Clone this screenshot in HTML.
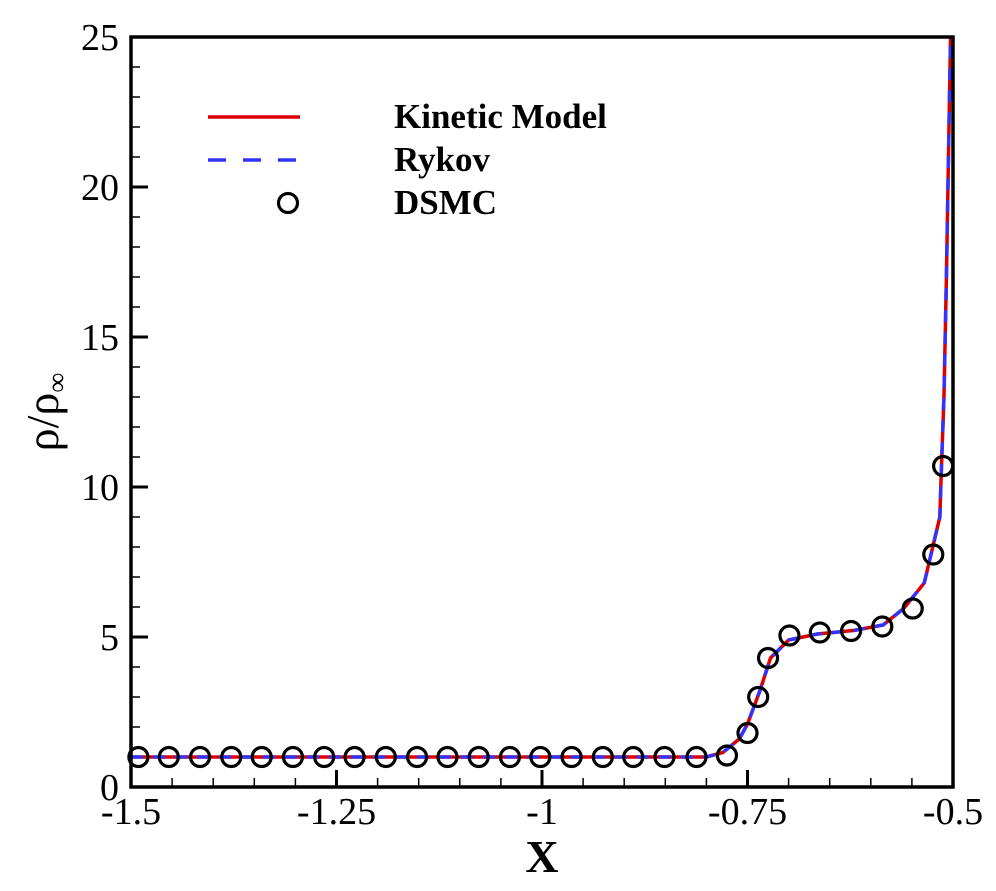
<!DOCTYPE html>
<html><head><meta charset="utf-8"><style>
body{margin:0;background:#fff}
svg text{font-family:"Liberation Serif",serif}
</style></head><body>
<svg id="c" width="996" height="886"></svg>
<script>
const lineX=[-1.5,-0.80,-0.78,-0.76,-0.75,-0.735,-0.722,-0.70,-0.665,-0.62,-0.585,-0.56,-0.535,-0.516,-0.514,-0.511,-0.508,-0.503];
const lineY=[1,1,1.15,1.6,2.1,3.2,4.3,4.9,5.1,5.22,5.4,5.95,6.8,9.0,10.7,13,17,25];
const dsmcX=[-1.491,-1.454,-1.416,-1.378,-1.341,-1.303,-1.265,-1.228,-1.190,-1.152,-1.115,-1.077,-1.039,-1.002,-0.964,-0.926,-0.889,-0.851,-0.812,-0.775,-0.750,-0.737,-0.725,-0.699,-0.662,-0.624,-0.586,-0.549,-0.524,-0.512];
const dsmcY=[1,1,1,1,1,1,1,1,1,1,1,1,1,1,1,1,1,1,1,1.05,1.8,3.0,4.3,5.05,5.15,5.2,5.35,5.95,7.75,10.7];
const xTicks=[-1.5,-1.25,-1,-0.75,-0.5];
const xTickLabels=["-1.5","-1.25","-1","-0.75","-0.5"];
const yTicks=[0,5,10,15,20,25];
const yTickLabels=["0","5","10","15","20","25"];
const L=131,R=953,T=37,B=787;
const sx=v=>L+(v+1.5)*(R-L);
const sy=v=>B-v/25*(B-T);
const svg=document.getElementById('c');const NS='http://www.w3.org/2000/svg';
function mk(t,a,p){const e=document.createElementNS(NS,t);for(const k in a)e.setAttribute(k,a[k]);(p||svg).appendChild(e);return e;}
for(let i=0;i<=25;i++){if(i%5){let e=mk('line',{x1:L,x2:L+9,y1:sy(i),y2:sy(i),stroke:'#000','stroke-width':1.5});}}
for(let i=0;i<=20;i++){if(i%5){let v=-1.5+i*0.05;let e=mk('line',{x1:sx(v),x2:sx(v),y1:B,y2:B-9,stroke:'#000','stroke-width':1.5});}}
yTicks.forEach((v,i)=>{let e=mk('line',{x1:L,x2:L+17,y1:sy(v),y2:sy(v),stroke:'#000','stroke-width':3});
let t=mk('text',{x:L-12,y:sy(v)+13,'text-anchor':'end','font-size':38});t.textContent=yTickLabels[i];});
xTicks.forEach((v,i)=>{let e=mk('line',{x1:sx(v),x2:sx(v),y1:B,y2:B-17,stroke:'#000','stroke-width':3});
let t=mk('text',{x:sx(v),y:B+37,'text-anchor':'middle','font-size':38});t.textContent=xTickLabels[i];});
let pts=lineX.map((x,i)=>sx(x)+','+sy(lineY[i])).join(' ');
let km=mk('polyline',{points:pts,fill:'none',stroke:'#dd0000','stroke-width':3.5});

let ry=mk('polyline',{points:pts,fill:'none',stroke:'#3333ff','stroke-width':3.5,'stroke-dasharray':'12 10'});

dsmcX.forEach((x,i)=>{let c=mk('circle',{cx:sx(x),cy:sy(dsmcY[i]),r:9.5,fill:'none',stroke:'#000','stroke-width':3.2});});
let fr=mk('rect',{x:L,y:T,width:R-L,height:B-T,fill:'none',stroke:'#000','stroke-width':3.5});

let g=mk('g',{});
mk('line',{x1:208,x2:300,y1:117,y2:117,stroke:'#dd0000','stroke-width':3.5},g);
mk('line',{x1:208,x2:300,y1:160,y2:160,stroke:'#3333ff','stroke-width':3.5,'stroke-dasharray':'18 17'},g);
mk('circle',{cx:288,cy:203,r:9.5,fill:'none',stroke:'#000','stroke-width':3.2},g);
[["Kinetic Model",117],["Rykov",160],["DSMC",203]].forEach(([s,y])=>{let t=mk('text',{x:394,y:y+11,'font-size':35,'font-weight':'bold'},g);t.textContent=s;});
let xl=mk('text',{x:542,y:872,'text-anchor':'middle','font-size':46,'font-weight':'bold'});xl.textContent='X';

let yl=mk('text',{x:0,y:0,'text-anchor':'middle','font-size':46,transform:'translate(58,412) rotate(-90)'});
yl.innerHTML='ρ/ρ<tspan font-size="28" dy="8">∞</tspan>';

</script>
</body></html>
